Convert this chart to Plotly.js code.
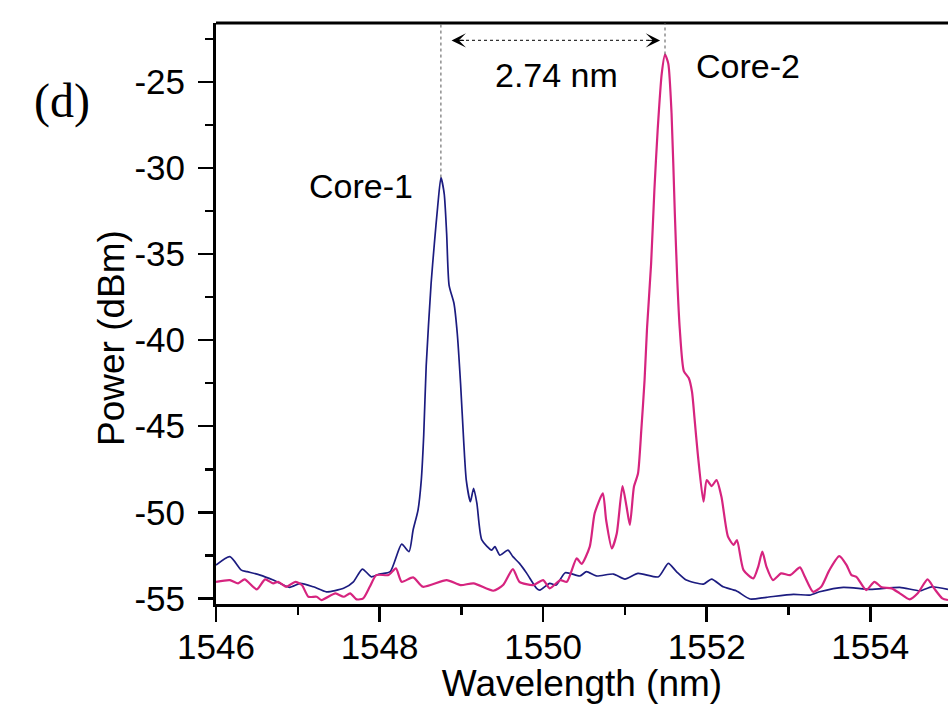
<!DOCTYPE html>
<html><head><meta charset="utf-8">
<script src="https://cdn.plot.ly/plotly-3.0.1.min.js"></script>
<style>html,body{margin:0;padding:0;background:#fff}</style>
</head><body><div id="chart" style="width:948px;height:704px"></div>
<script>
// ---- data ----
const wavelength1 = [1546.00,1546.17,1546.31,1546.38,1546.54,1546.70,1546.90,1547.03,1547.19,1547.35,1547.56,1547.68,1547.79,1547.90,1548.00,1548.13,1548.27,1548.36,1548.41,1548.47,1548.51,1548.54,1548.57,1548.63,1548.67,1548.71,1548.75,1548.79,1548.82,1548.85,1548.91,1548.95,1548.99,1549.03,1549.06,1549.11,1549.15,1549.19,1549.25,1549.37,1549.41,1549.47,1549.57,1549.63,1549.71,1549.80,1549.92,1549.96,1550.08,1550.16,1550.27,1550.45,1550.53,1550.65,1550.86,1551.00,1551.16,1551.41,1551.53,1551.63,1551.75,1551.96,1552.06,1552.20,1552.36,1552.53,1552.73,1553.06,1553.26,1553.38,1553.67,1554.00,1554.36,1554.61,1554.75,1554.95];
const power1 = [-53.07,-52.58,-53.36,-53.45,-53.65,-53.94,-54.36,-54.13,-54.33,-54.62,-54.42,-54.04,-53.30,-53.75,-53.59,-53.45,-51.85,-52.29,-51.03,-49.87,-48.13,-45.5,-41.5,-36.71,-34.38,-32.26,-30.55,-31.48,-33.80,-36.81,-37.87,-39.61,-42.5,-46.0,-48.13,-49.39,-48.61,-49.48,-51.61,-52.20,-52.00,-52.49,-52.20,-52.58,-52.97,-53.55,-54.42,-54.52,-54.13,-54.23,-53.51,-53.70,-53.45,-53.70,-53.59,-53.88,-53.55,-53.75,-52.97,-53.45,-53.94,-54.17,-53.88,-54.33,-54.56,-55.04,-54.94,-54.77,-54.81,-54.62,-54.36,-54.48,-54.36,-54.56,-54.33,-54.48];

const wavelength2 = [1546.00,1546.17,1546.27,1546.35,1546.50,1546.60,1546.70,1546.76,1546.86,1546.97,1547.05,1547.13,1547.23,1547.29,1547.46,1547.56,1547.64,1547.72,1547.80,1547.88,1547.96,1548.11,1548.20,1548.27,1548.41,1548.53,1548.82,1548.99,1549.15,1549.39,1549.51,1549.63,1549.71,1549.88,1550.00,1550.08,1550.21,1550.29,1550.41,1550.47,1550.57,1550.63,1550.73,1550.77,1550.84,1550.90,1550.97,1551.02,1551.06,1551.11,1551.16,1551.20,1551.24,1551.27,1551.32,1551.36,1551.40,1551.45,1551.49,1551.53,1551.57,1551.61,1551.64,1551.67,1551.72,1551.78,1551.82,1551.85,1551.89,1551.96,1552.00,1552.06,1552.12,1552.18,1552.26,1552.33,1552.37,1552.45,1552.57,1552.63,1552.68,1552.73,1552.81,1552.91,1553.02,1553.14,1553.20,1553.30,1553.40,1553.50,1553.62,1553.71,1553.77,1553.83,1553.95,1554.05,1554.14,1554.26,1554.36,1554.48,1554.58,1554.70,1554.78,1554.88,1554.95];
const power2 = [-54.04,-53.94,-54.13,-53.90,-54.48,-53.90,-54.13,-54.04,-54.33,-54.04,-54.23,-54.91,-54.91,-55.10,-54.71,-54.91,-54.71,-55.06,-55.00,-54.33,-53.65,-53.65,-53.26,-54.04,-53.78,-54.33,-53.94,-54.23,-54.13,-54.56,-54.23,-53.30,-54.04,-54.23,-53.94,-54.42,-53.94,-54.04,-52.68,-53.00,-52.00,-50.06,-48.90,-50.45,-52.10,-51.23,-48.48,-49.68,-50.74,-48.52,-47.74,-45.23,-42.32,-39.32,-35.55,-31.29,-27.80,-24.51,-23.40,-23.93,-26.83,-32.64,-36.52,-39.32,-41.8,-42.2,-43.0,-44.5,-46.58,-49.39,-48.13,-48.48,-48.13,-49.10,-51.42,-51.90,-51.61,-53.36,-53.84,-53.16,-52.29,-53.16,-53.94,-53.55,-53.65,-53.20,-53.75,-54.62,-54.33,-53.36,-52.55,-53.07,-53.65,-53.75,-54.52,-54.04,-54.36,-54.42,-54.71,-55.06,-54.71,-53.90,-54.42,-55.00,-55.10];

const xTickVals = [1546, 1548, 1550, 1552, 1554];
const yTickVals = [-55, -50, -45, -40, -35, -30, -25];
const yTickText = ["-55", "-50", "-45", "-40", "-35", "-30", "-25"];
const seriesNames = ["Core-1", "Core-2"];
const separationLabel = "2.74 nm";
const panelLabel = "(d)";
const xTitle = "Wavelength (nm)";
const yTitle = "Power (dBm)";

// ---- derived ----
function peak(xs, ys) { let k = 0; ys.forEach((v, i) => { if (v > ys[k]) k = i; }); return {x: xs[k], y: ys[k]}; }
const p1 = peak(wavelength1, power1);
const p2 = peak(wavelength2, power2);

const xRange = [1546, 1554.95];
const yRange = [-55.33, -21.57];
const arrowY = -22.58;
const font = 'Liberation Sans, Arial, sans-serif';
const blue = '#1c1c80';
const pink = '#d6247f';

const traces = [
  {x: wavelength1, y: power1, name: seriesNames[0], mode: 'lines', line: {color: blue, width: 1.7, shape: 'spline', smoothing: 0.6}},
  {x: wavelength2, y: power2, name: seriesNames[1], mode: 'lines', line: {color: pink, width: 2.2, shape: 'spline', smoothing: 0.6}}
];

const axisCommon = {
  showline: true, linewidth: 3, linecolor: '#000', showgrid: false, zeroline: false,
  ticks: 'outside', ticklen: 15, tickwidth: 2.5, tickcolor: '#000',
  tickfont: {family: font, size: 35, color: '#000'}
};

const layout = {
  width: 948, height: 704,
  margin: {l: 216, r: 0, t: 23, b: 100},
  paper_bgcolor: '#fff', plot_bgcolor: '#fff',
  showlegend: false,
  xaxis: Object.assign({}, axisCommon, {
    range: xRange, tickmode: 'array', tickvals: xTickVals, ticklabelstandoff: -5,
    minor: {ticks: 'outside', ticklen: 8, tickwidth: 2.5, tickcolor: '#000', dtick: 1, tick0: 1546},
    title: {text: xTitle, font: {family: font, size: 37, color: '#000'}, standoff: 6}
  }),
  yaxis: Object.assign({}, axisCommon, {
    range: yRange, tickmode: 'array', tickvals: yTickVals, ticktext: yTickText, ticklabelstandoff: 6,
    minor: {ticks: 'outside', ticklen: 8, tickwidth: 2.5, tickcolor: '#000', dtick: 2.5, tick0: -55}
  }),
  shapes: [
    {type: 'line', xref: 'paper', yref: 'paper', x0: 0, x1: 1, y0: 1, y1: 1, line: {color: '#000', width: 3}},
    {type: 'line', xref: 'x', yref: 'y', x0: p1.x, x1: p1.x, y0: p1.y, y1: yRange[1], line: {color: '#555', width: 1, dash: 'dot'}},
    {type: 'line', xref: 'x', yref: 'y', x0: p2.x, x1: p2.x, y0: p2.y, y1: yRange[1], line: {color: '#555', width: 1, dash: 'dot'}},
    {type: 'line', xref: 'x', yref: 'y', x0: p1.x + 0.16, x1: p2.x - 0.09, y0: arrowY, y1: arrowY, line: {color: '#333', width: 1.2, dash: 'dot'}}
  ],
  annotations: [
    {x: p1.x + 0.13, y: arrowY, xref: 'x', yref: 'y', ax: 14, ay: 0, showarrow: true, arrowhead: 3, arrowsize: 2.4, arrowwidth: 1, arrowcolor: '#000', text: ''},
    {x: p2.x - 0.06, y: arrowY, xref: 'x', yref: 'y', ax: -14, ay: 0, showarrow: true, arrowhead: 3, arrowsize: 2.4, arrowwidth: 1, arrowcolor: '#000', text: ''},
    {x: 1550.16, y: -24.61, xref: 'x', yref: 'y', xanchor: 'center', yanchor: 'middle', text: separationLabel, showarrow: false, font: {family: font, size: 34, color: '#000'}},
    {x: 1547.77, y: -31.06, xref: 'x', yref: 'y', xanchor: 'center', yanchor: 'middle', text: seriesNames[0], showarrow: false, font: {family: font, size: 34, color: '#000'}},
    {x: 1552.50, y: -24.09, xref: 'x', yref: 'y', xanchor: 'center', yanchor: 'middle', text: seriesNames[1], showarrow: false, font: {family: font, size: 34, color: '#000'}},
    {x: -0.2104, y: 0.865, xref: 'paper', yref: 'paper', xanchor: 'center', yanchor: 'middle', text: panelLabel, showarrow: false, font: {family: 'Liberation Serif, Times New Roman, serif', size: 48, color: '#000'}},
    {x: -0.142, y: 0.458, xref: 'paper', yref: 'paper', xanchor: 'center', yanchor: 'middle', text: yTitle, textangle: -90, showarrow: false, font: {family: font, size: 37, color: '#000'}}
  ]
};

Plotly.newPlot('chart', traces, layout, {displayModeBar: false, staticPlot: true});
</script>
</body></html>
